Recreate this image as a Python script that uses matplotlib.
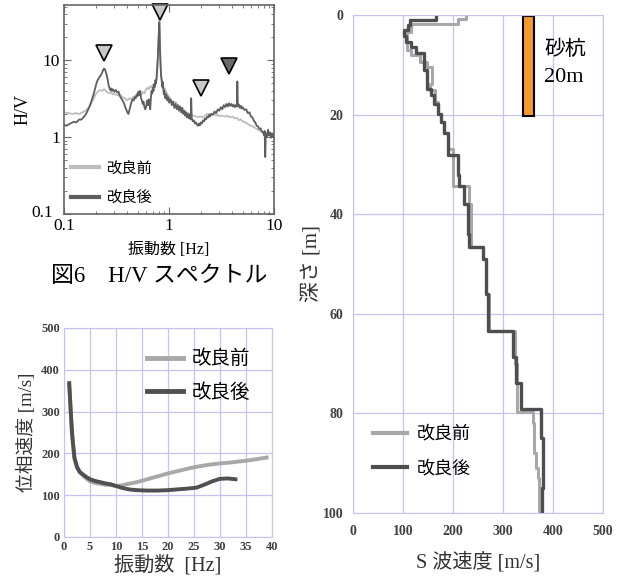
import numpy as np
import matplotlib
matplotlib.use("Agg")
import matplotlib.pyplot as plt
import matplotlib.transforms as mtrans

plt.rcParams['font.family'] = ['Liberation Serif', 'Noto Sans CJK JP']

# --- H/V spectrum data ---
hv_freq_after = [0.100, 0.105, 0.110, 0.115, 0.120, 0.125, 0.130, 0.135, 0.140, 0.145,
                 0.150, 0.155, 0.160, 0.165, 0.170, 0.175, 0.180, 0.185, 0.190, 0.195,
                 0.200, 0.205, 0.210, 0.215, 0.220, 0.225, 0.230, 0.235, 0.240, 0.245,
                 0.250, 0.255, 0.260, 0.265, 0.270, 0.275, 0.280, 0.285, 0.290, 0.300,
                 0.310, 0.320, 0.330, 0.340, 0.350, 0.360, 0.370, 0.380, 0.390, 0.400,
                 0.410, 0.420, 0.430, 0.440, 0.450, 0.460, 0.470, 0.480, 0.490, 0.500,
                 0.510, 0.520, 0.530, 0.540, 0.550, 0.560, 0.570, 0.580, 0.590, 0.600,
                 0.610, 0.620, 0.630, 0.640, 0.650, 0.660, 0.670, 0.680, 0.690, 0.700,
                 0.710, 0.720, 0.730, 0.740, 0.750, 0.760, 0.770, 0.780, 0.790, 0.800,
                 0.805, 0.810, 0.815, 0.820, 0.830, 0.840, 0.850, 0.860, 0.870, 0.880,
                 0.890, 0.900, 0.920, 0.940, 0.960, 0.980, 1.000, 1.030, 1.060, 1.090,
                 1.120, 1.150, 1.180, 1.210, 1.240, 1.270, 1.300, 1.330, 1.360, 1.390,
                 1.420, 1.450, 1.480, 1.510, 1.540, 1.570, 1.600, 1.620, 1.640, 1.680,
                 1.720, 1.760, 1.800, 1.840, 1.880, 1.920, 1.960, 2.000, 2.050, 2.100,
                 2.150, 2.200, 2.250, 2.300, 2.350, 2.400, 2.450, 2.500, 2.600, 2.700,
                 2.800, 2.900, 3.000, 3.100, 3.200, 3.300, 3.400, 3.500, 3.600, 3.700,
                 3.800, 3.900, 4.000, 4.100, 4.200, 4.300, 4.400, 4.450, 4.500, 4.600,
                 4.700, 4.800, 4.900, 5.000, 5.200, 5.400, 5.600, 5.800, 6.000, 6.200,
                 6.400, 6.600, 6.800, 7.000, 7.200, 7.400, 7.600, 7.800, 8.000, 8.100,
                 8.200, 8.300, 8.500, 8.700, 8.900, 9.100, 9.300, 9.500, 9.700, 10.00]
hv_after = [1.45, 1.40, 1.45, 1.50, 1.55, 1.58, 1.55, 1.62, 1.70, 1.68,
            1.75, 1.85, 1.95, 2.10, 2.30, 2.50, 2.80, 3.10, 3.50, 4.00,
            4.60, 5.20, 5.60, 5.90, 6.20, 6.40, 6.90, 7.40, 7.80, 7.60,
            7.00, 6.40, 5.60, 4.80, 4.40, 4.10, 4.30, 4.00, 4.20, 3.90,
            4.10, 3.80, 3.90, 3.40, 3.20, 3.00, 2.80, 2.50, 2.30, 2.10,
            2.00, 2.30, 2.60, 2.90, 3.10, 3.00, 3.30, 3.20, 3.60, 3.40,
            3.90, 3.50, 4.00, 3.20, 3.00, 2.70, 2.90, 2.50, 2.30, 2.40,
            2.70, 3.00, 2.60, 3.10, 2.80, 2.30, 3.20, 4.00, 3.70, 4.40,
            4.00, 4.90, 4.50, 5.50, 5.00, 6.00, 8.00, 11.0, 17.0, 26.0,
            31.0, 26.0, 18.0, 12.0, 8.00, 6.00, 5.50, 4.50, 5.20, 4.40,
            3.60, 4.00, 3.20, 3.60, 3.00, 3.30, 2.80, 3.10, 2.60, 2.90,
            2.40, 2.70, 2.30, 2.60, 2.20, 2.50, 2.10, 2.40, 2.00, 2.20,
            1.90, 2.10, 1.80, 2.00, 1.75, 1.95, 1.70, 3.20, 1.75, 1.60,
            1.65, 1.50, 1.55, 1.45, 1.40, 1.50, 1.42, 1.55, 1.50, 1.65,
            1.60, 1.75, 1.70, 1.85, 1.80, 1.95, 1.85, 2.00, 1.95, 2.15,
            2.05, 2.30, 2.20, 2.45, 2.30, 2.60, 2.45, 2.70, 2.50, 2.75,
            2.55, 2.70, 2.50, 2.65, 2.45, 2.60, 2.50, 5.30, 2.50, 2.65,
            2.40, 2.55, 2.35, 2.45, 2.25, 2.30, 2.05, 2.10, 1.85, 1.80,
            1.62, 1.55, 1.40, 1.38, 1.28, 1.30, 1.18, 1.15, 1.05, 1.20,
            0.55, 1.10, 1.00, 1.25, 1.05, 1.15, 0.98, 1.12, 1.02, 1.10]

hv_freq_before = [0.100, 0.110, 0.120, 0.130, 0.140, 0.150, 0.160, 0.170, 0.180, 0.190,
                  0.200, 0.210, 0.220, 0.230, 0.240, 0.250, 0.260, 0.270, 0.280, 0.290,
                  0.300, 0.320, 0.340, 0.360, 0.380, 0.400, 0.420, 0.440, 0.460, 0.480,
                  0.500, 0.520, 0.540, 0.560, 0.580, 0.600, 0.620, 0.640, 0.660, 0.680,
                  0.700, 0.720, 0.740, 0.760, 0.770, 0.780, 0.790, 0.800, 0.808, 0.815,
                  0.820, 0.830, 0.840, 0.850, 0.870, 0.890, 0.910, 0.930, 0.960, 1.000,
                  1.050, 1.100, 1.150, 1.200, 1.250, 1.300, 1.350, 1.400, 1.450, 1.500,
                  1.600, 1.700, 1.800, 1.900, 2.000, 2.100, 2.200, 2.300, 2.400, 2.500,
                  2.600, 2.700, 2.800, 2.900, 3.000, 3.200, 3.400, 3.600, 3.800, 4.000,
                  4.200, 4.400, 4.600, 4.800, 5.000, 5.300, 5.600, 6.000, 6.400, 6.800,
                  7.200, 7.600, 8.000, 8.500, 9.000, 9.500, 10.00]
hv_before = [2.10, 2.05, 2.00, 2.05, 2.00, 2.10, 2.20, 2.40, 2.70, 3.10,
             3.60, 3.90, 4.10, 4.00, 4.20, 4.00, 3.80, 3.70, 3.90, 3.60,
             3.70, 3.50, 3.60, 3.30, 3.20, 3.00, 3.20, 3.10, 3.40, 3.20,
             3.60, 3.80, 3.50, 3.90, 3.70, 4.10, 4.40, 4.20, 4.60, 4.40,
             4.80, 4.60, 5.20, 5.80, 7.00, 10.0, 16.0, 25.0, 34.0, 24.0,
             15.0, 9.00, 6.50, 5.20, 4.40, 4.00, 4.30, 3.90, 3.60, 3.30,
             3.00, 2.80, 2.85, 2.60, 2.50, 2.40, 2.30, 2.20, 2.10, 2.05,
             1.95, 1.90, 1.85, 1.82, 1.85, 1.80, 1.90, 2.00, 1.95, 2.00,
             1.95, 2.00, 1.90, 1.95, 1.88, 1.90, 1.85, 1.90, 1.80, 1.85,
             1.75, 1.78, 1.65, 1.70, 1.60, 1.55, 1.48, 1.40, 1.35, 1.28,
             1.22, 1.18, 1.15, 1.10, 1.08, 1.05, 1.02]

# peak markers (frequency, H/V, series)
peak_freq = [0.24, 0.82, 2.02, 3.73]
peak_hv = [12.3, 42.0, 4.3, 8.4]
peak_series = ['before', 'before', 'before', 'after']

# --- dispersion curve data ---
disp_freq_before = [1, 1.5, 2, 2.5, 3, 4, 5, 6, 7, 8, 9, 10, 11, 12, 14, 16, 18, 20,
                    22, 24, 26, 28, 30, 32, 34, 36, 38, 39]
disp_vel_before = [365, 250, 188, 165, 155, 143, 133, 129, 127, 125, 124, 122, 123, 126,
                   131, 138, 145, 152, 158, 164, 169, 173, 176, 178, 181, 184, 188, 190]
disp_freq_after = [1, 1.3, 1.6, 2, 2.5, 3, 4, 5, 6, 7, 8, 9, 10, 11, 12, 13, 14, 16, 18,
                   20, 22, 24, 25.5, 27, 28.5, 30, 31.5, 33]
disp_vel_after = [368, 300, 240, 190, 168, 156, 146, 138, 134, 131, 128, 126, 122, 118,
                  115, 113, 112, 111, 111, 112, 114, 116, 118, 125, 133, 139, 140, 138]

# --- Vs profile data (layer top depth [m], Vs [m/s]) ---
top_before = [0, 0.9, 1.9, 3.4, 7.0, 8.0, 9.4, 10.4, 13.8, 15.0, 17.5, 19.8, 21.4, 23.7,
              27.0, 34.3, 38.0, 46.6, 49.0, 56.0, 63.4, 70.0, 79.8, 82.0, 88.0, 91.0, 93.0]
vs_before = [226, 210, 116, 108, 116, 134, 148, 159, 154, 164, 170, 177, 183, 190,
             200, 232, 237, 260, 267, 272, 325, 328, 360, 363, 367, 370, 372]
top_after = [0, 1.0, 2.0, 3.0, 4.2, 5.4, 6.4, 7.7, 11.0, 14.8, 16.1, 17.8, 19.8, 21.4,
             23.7, 28.2, 32.2, 34.3, 38.0, 44.0, 46.6, 49.0, 56.0, 63.4, 68.7, 74.0,
             79.2, 85.0, 95.0]
vs_after = [166, 115, 110, 102, 107, 116, 126, 143, 148, 157, 163, 170, 177, 183,
            190, 210, 213, 223, 230, 233, 260, 267, 270, 320, 327, 337, 377, 381, 378]
max_depth = 100
pile_length = 20
pile_vs = (340, 363)

labels = ['改良前', '改良後']
lav = '#c4c4f0'
tick_col = '#404040'


def step_profile(tops, vs, bottom):
    bots = list(tops[1:]) + [bottom]
    x = np.repeat(vs, 2)
    y = np.column_stack([tops, bots]).ravel()
    return x, y


fig = plt.figure(figsize=(6.24, 5.78), dpi=100)

# ---------- H/V spectrum ----------
ax1 = fig.add_axes([0.1026, 0.630, 0.337, 0.362])
ax1.plot(hv_freq_before, hv_before, color='#bdbdbd', lw=1.3, label=labels[0])
ax1.plot(hv_freq_after, hv_after, color='#5e5e5e', lw=1.3, label=labels[1])
for f, v, s in zip(peak_freq, peak_hv, peak_series):
    ax1.plot(f, v, marker='v', ms=11, mfc='#c8c8c8' if s == 'before' else '#6a6a6a',
             mec='black', mew=1.2, ls='none', clip_on=False)
ax1.set_xscale('log')
ax1.set_yscale('log')
ax1.set_xlim(0.1, 10)
ax1.set_ylim(0.1, 53)
ax1.set_xticks([0.1, 1, 10])
ax1.set_xticklabels(['0.1', '1', '10'])
ax1.set_yticks([0.1, 1, 10])
ax1.set_yticklabels(['0.1', '1', '10'])
ax1.tick_params(which='both', direction='in', top=True, right=True, colors='#666666',
                labelcolor='black', labelsize=12.5, pad=3)
ax1.tick_params(which='major', length=5)
ax1.tick_params(which='minor', length=2.5)
# the lowest y label sits a little left and up, as in the original
lab01 = ax1.yaxis.get_major_ticks()[0].label1
lab01.set_transform(lab01.get_transform() +
                    mtrans.ScaledTranslation(-7 / 100, 3 / 100, fig.dpi_scale_trans))
for sp in ax1.spines.values():
    sp.set_color('#666666')
    sp.set_linewidth(1.2)
ax1.set_xlabel('振動数 [Hz]', fontsize=11.5, labelpad=6)
ax1.set_ylabel('H/V', fontsize=13)
ax1.yaxis.set_label_coords(-0.155, 0.5)
leg1 = ax1.legend(loc='upper left', bbox_to_anchor=(0.035, 0.252), frameon=False,
                  fontsize=11, handlelength=1.8, handletextpad=0.5, labelspacing=1.0,
                  borderpad=0, borderaxespad=0)
for ln in leg1.get_lines():
    ln.set_linewidth(3)
fig.text(0.255, 1 - 276 / 578, '図6\u3000H/V スペクトル', ha='center', va='center',
         fontsize=16.5)

# ---------- dispersion curve ----------
ax2 = fig.add_axes([0.1026, 0.071, 0.333, 0.3616])
ax2.plot(disp_freq_before, disp_vel_before, color='#a8a8a8', lw=2.8, label=labels[0])
ax2.plot(disp_freq_after, disp_vel_after, color='#505050', lw=2.8, label=labels[1])
ax2.set_xlim(0, 40)
ax2.set_ylim(0, 500)
ax2.set_xticks(np.arange(0, 41, 5))
ax2.set_yticks(np.arange(0, 501, 100))
ax2.grid(True, color=lav, lw=0.9)
ax2.set_axisbelow(True)
ax2.tick_params(length=0, labelsize=9, labelcolor=tick_col, pad=3)
for lab in ax2.get_xticklabels() + ax2.get_yticklabels():
    lab.set_fontweight('bold')
for sp in ax2.spines.values():
    sp.set_color(lav)
ax2.set_xlabel('振動数  [Hz]', fontsize=14.5, color='#333333', labelpad=1)
ax2.set_ylabel('位相速度 [m/s]', fontsize=13.5, color='#333333', labelpad=4)
leg2 = ax2.legend(loc='upper left', bbox_to_anchor=(0.40, 0.895), frameon=False,
                  fontsize=14, handlelength=1.85, handletextpad=0.45, labelspacing=0.75,
                  borderpad=0, borderaxespad=0)
for ln in leg2.get_lines():
    ln.set_linewidth(3.5)

# ---------- Vs profile ----------
ax3 = fig.add_axes([0.5657, 0.1125, 0.4006, 0.8616])
xb, yb = step_profile(top_before, vs_before, max_depth)
xa, ya = step_profile(top_after, vs_after, max_depth)
ax3.plot(xb, yb, color='#a8a8a8', lw=2.2, label=labels[0])
ax3.plot(xa, ya, color='#4e4e4e', lw=2.4, label=labels[1])
ax3.bar(np.mean(pile_vs), pile_length, width=pile_vs[1] - pile_vs[0], bottom=0.3,
        color='#f7982c', edgecolor='black', linewidth=1.5)
ax3.text(383, 7.0, '砂杭', fontsize=15, va='center', ha='left')
ax3.text(383, 12.6, '20m', fontsize=16, va='center', ha='left')
ax3.set_xlim(0, 500)
ax3.set_ylim(max_depth, 0)
ax3.set_xticks(np.arange(0, 501, 100))
ax3.set_yticks(np.arange(0, 101, 20))
ax3.grid(True, color=lav, lw=0.9)
ax3.set_axisbelow(True)
ax3.tick_params(length=0, labelsize=10, labelcolor=tick_col)
ax3.tick_params(axis='x', pad=9)
ax3.tick_params(axis='y', pad=7)
for lab in ax3.get_xticklabels() + ax3.get_yticklabels():
    lab.set_fontweight('bold')
for sp in ax3.spines.values():
    sp.set_color(lav)
ax3.set_xlabel('S 波速度 [m/s]', fontsize=14.5, color='#333333', labelpad=10)
ax3.set_ylabel('深さ [m]', fontsize=15, color='#333333', labelpad=0)
leg3 = ax3.legend(loc='upper left', bbox_to_anchor=(0.08, 0.175), frameon=False,
                  fontsize=13, handlelength=1.9, handletextpad=0.55, labelspacing=0.95,
                  borderpad=0, borderaxespad=0)
for ln in leg3.get_lines():
    ln.set_linewidth(3)

fig.savefig('out.png', dpi=100)
